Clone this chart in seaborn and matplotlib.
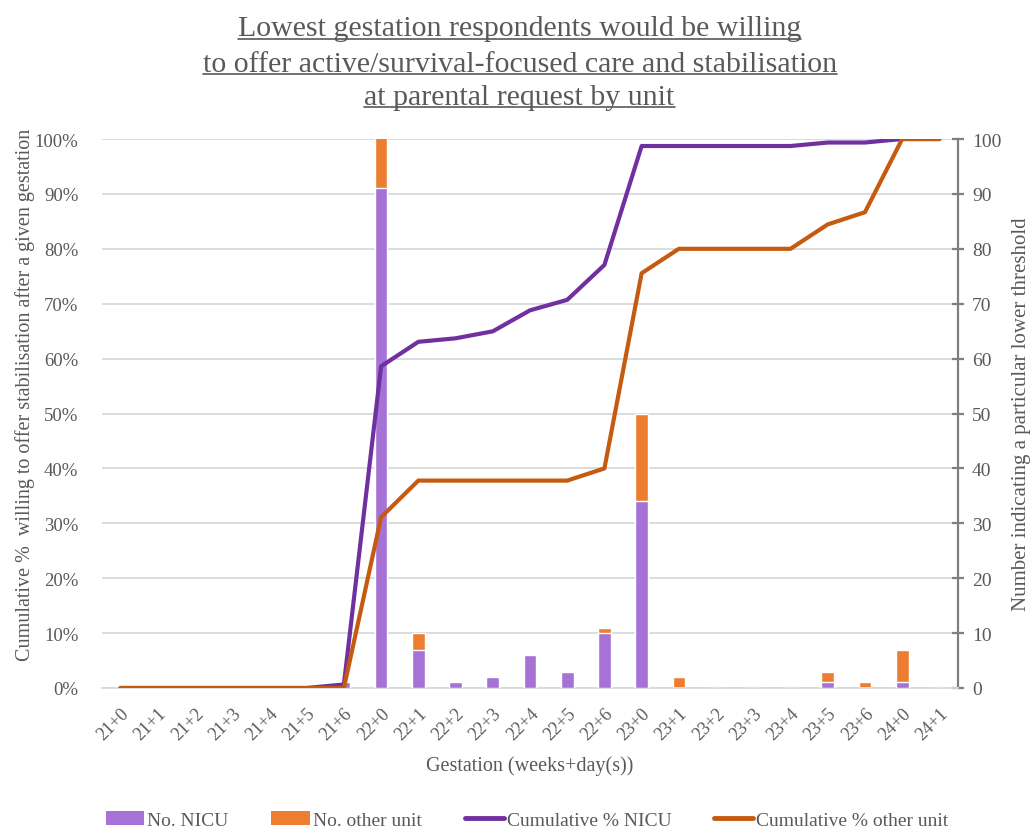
import numpy as np
import pandas as pd
import matplotlib
matplotlib.use("Agg")
import matplotlib.pyplot as plt
from matplotlib.patches import Patch
from matplotlib.lines import Line2D
import seaborn as sns

# Gestation categories (weeks+days)
gestation = ["21+0", "21+1", "21+2", "21+3", "21+4", "21+5", "21+6",
             "22+0", "22+1", "22+2", "22+3", "22+4", "22+5", "22+6",
             "23+0", "23+1", "23+2", "23+3", "23+4", "23+5", "23+6",
             "24+0", "24+1"]

# Number of respondents giving each gestation as their lower threshold
no_nicu = [0, 0, 0, 0, 0, 0, 1,
           91, 7, 1, 2, 6, 3, 10,
           34, 0, 0, 0, 0, 1, 0,
           1, 0]
no_other = [0, 0, 0, 0, 0, 0, 0,
            14, 3, 0, 0, 0, 0, 1,
            16, 2, 0, 0, 0, 2, 1,
            6, 0]

nicu_arr = np.array(no_nicu, dtype=float)
other_arr = np.array(no_other, dtype=float)
cum_nicu = np.cumsum(nicu_arr) / nicu_arr.sum() * 100
cum_other = np.cumsum(other_arr) / other_arr.sum() * 100

df = pd.DataFrame({
    "gestation": gestation,
    "nicu": nicu_arr,
    "total": nicu_arr + other_arr,
    "pos": np.arange(len(gestation)),
    "cum_nicu": cum_nicu,
    "cum_other": cum_other,
})

C_NICU_BAR = "#A672D6"
C_OTHER_BAR = "#ED7D31"
C_NICU_LINE = "#7030A0"
C_OTHER_LINE = "#C55A11"
GREY_TXT = "#595959"
SERIF = "Liberation Serif"

sns.set_theme(style="white")
plt.rcParams["font.family"] = [SERIF, "DejaVu Serif"]

fig = plt.figure(figsize=(10.33, 8.29), dpi=100)
ax = fig.add_axes([0.0987, 0.1689, 0.8287, 0.6622])
ax2 = ax.twinx()

# stacked bars (counts, right-hand scale): total in orange, NICU share over it
sns.barplot(data=df, x="gestation", y="total", color=C_OTHER_BAR, width=0.34,
            saturation=1, ax=ax, zorder=2)
sns.barplot(data=df, x="gestation", y="nicu", color=C_NICU_BAR, width=0.34,
            saturation=1, ax=ax, zorder=3)
ax.set_ylim(0, 100)
ax.set_xlim(-0.5, len(gestation) - 0.5)
ax.set_yticks(np.arange(0, 101, 10))
ax.grid(axis="y", color="#D9D9D9", linewidth=1.3, zorder=0)
ax.set_axisbelow(True)
for s in ["top", "left"]:
    ax.spines[s].set_visible(False)
ax.spines["bottom"].set_color("#D9D9D9")
ax.spines["bottom"].set_linewidth(1.3)
ax.spines["right"].set_color("#7F7F7F")
ax.spines["right"].set_linewidth(1.6)
ax.yaxis.tick_right()
ax.yaxis.set_label_position("right")
ax.tick_params(axis="y", left=False, labelleft=False, right=True, labelright=True,
               direction="inout", length=8, width=1.6,
               color="#7F7F7F", labelsize=14, labelcolor=GREY_TXT, pad=6)
ax.tick_params(axis="x", bottom=False, labelsize=13, labelcolor=GREY_TXT, pad=6)
plt.setp(ax.get_xticklabels(), rotation=45, ha="right", rotation_mode="anchor")
ax.set_xlabel("Gestation (weeks+day(s))", fontsize=14.5, color=GREY_TXT, labelpad=9)
ax.set_ylabel("Number indicating a particular lower threshold", fontsize=15,
              color=GREY_TXT, rotation=90, labelpad=8)

# cumulative percentage lines (left-hand scale)
sns.lineplot(data=df, x="pos", y="cum_nicu", color=C_NICU_LINE, linewidth=3.0,
             ax=ax2, zorder=5)
sns.lineplot(data=df, x="pos", y="cum_other", color=C_OTHER_LINE, linewidth=3.0,
             ax=ax2, zorder=5)
ax2.set_ylim(0, 100)
ax2.set_xlim(-0.5, len(gestation) - 0.5)
ax2.set_yticks(np.arange(0, 101, 10))
ax2.set_yticklabels([f"{v}%" for v in range(0, 101, 10)])
ax2.yaxis.tick_left()
ax2.yaxis.set_label_position("left")
for s in ax2.spines.values():
    s.set_visible(False)
ax2.tick_params(axis="y", left=False, right=False, labelright=False, labelleft=True,
                labelsize=13.5, labelcolor=GREY_TXT, pad=11)
ax2.set_xlabel("")
ax2.set_ylabel("Cumulative %  willing to offer stabilisation after a given gestation",
               fontsize=14.5, color=GREY_TXT, labelpad=2)
ax2.yaxis.set_label_coords(-0.078, 0.535)
ax2.grid(False)

# title, underlined line by line
title_lines = ["Lowest gestation respondents would be willing",
               "to offer active/survival-focused care and stabilisation",
               "at parental request by unit"]
title_y = [0.965, 0.922, 0.882]
title_objs = []
for txt, y in zip(title_lines, title_y):
    t = fig.text(0.503, y, txt, ha="center", va="center", fontsize=21.5,
                 color=GREY_TXT)
    title_objs.append(t)

fig.canvas.draw()
renderer = fig.canvas.get_renderer()
inv = fig.transFigure.inverted()
for t in title_objs:
    bb = t.get_window_extent(renderer)
    (x0, y0), (x1, y1) = inv.transform([[bb.x0, bb.y0], [bb.x1, bb.y1]])
    fig.add_artist(Line2D([x0, x1], [y0 + 0.003, y0 + 0.003],
                          transform=fig.transFigure, color=GREY_TXT, linewidth=1.2))

handles = [Patch(facecolor=C_NICU_BAR, edgecolor="none"),
           Patch(facecolor=C_OTHER_BAR, edgecolor="none"),
           Line2D([0], [0], color=C_NICU_LINE, linewidth=3.5),
           Line2D([0], [0], color=C_OTHER_LINE, linewidth=3.5)]
labels = ["No. NICU", "No. other unit", "Cumulative % NICU", "Cumulative % other unit"]
fig.legend(handles, labels, loc="lower center", bbox_to_anchor=(0.51, -0.022),
           ncol=4, frameon=False, fontsize=14, labelcolor=GREY_TXT,
           columnspacing=2.2, handlelength=2.0, handletextpad=0.15)

fig.savefig("out.png", dpi=100)
